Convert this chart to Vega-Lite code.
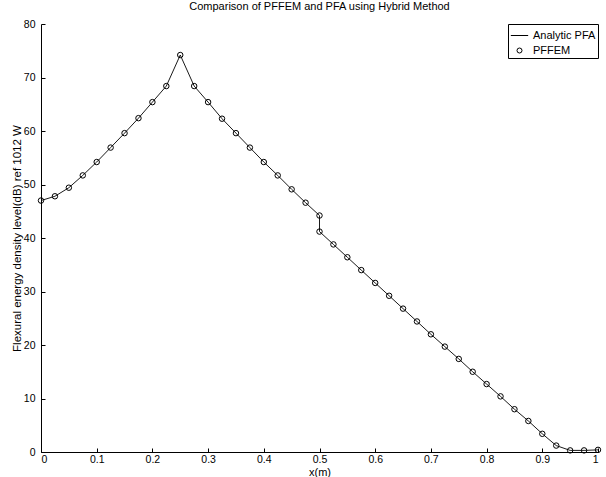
{
  "$schema": "https://vega.github.io/schema/vega-lite/v6.json",
  "width": 557,
  "height": 428,
  "autosize": {"type": "none"},
  "padding": {"left": 41, "top": 24, "right": 8, "bottom": 25},
  "background": "white",
  "config": {
    "view": {"stroke": null},
    "font": "Liberation Sans",
    "axis": {
      "grid": false,
      "domainColor": "black",
      "domainWidth": 1,
      "tickColor": "black",
      "tickSize": -4,
      "labelColor": "black",
      "labelFontSize": 10.5,
      "titleColor": "black",
      "titleFontSize": 11,
      "titleFontWeight": "normal"
    }
  },
  "title": {
    "text": "Comparison of PFFEM and PFA using Hybrid Method",
    "fontSize": 11,
    "fontWeight": "normal",
    "color": "black",
    "offset": 7
  },
  "data": {
    "values": [
      {"x": 0.000, "y": 47.0},
      {"x": 0.025, "y": 47.8},
      {"x": 0.050, "y": 49.4},
      {"x": 0.075, "y": 51.7},
      {"x": 0.100, "y": 54.2},
      {"x": 0.125, "y": 56.9},
      {"x": 0.150, "y": 59.6},
      {"x": 0.175, "y": 62.4},
      {"x": 0.200, "y": 65.4},
      {"x": 0.225, "y": 68.4},
      {"x": 0.250, "y": 74.2},
      {"x": 0.275, "y": 68.4},
      {"x": 0.300, "y": 65.4},
      {"x": 0.325, "y": 62.3},
      {"x": 0.350, "y": 59.6},
      {"x": 0.375, "y": 56.9},
      {"x": 0.400, "y": 54.2},
      {"x": 0.425, "y": 51.7},
      {"x": 0.450, "y": 49.1},
      {"x": 0.475, "y": 46.6},
      {"x": 0.500, "y": 44.2},
      {"x": 0.500, "y": 41.2},
      {"x": 0.525, "y": 38.8},
      {"x": 0.550, "y": 36.4},
      {"x": 0.575, "y": 34.0},
      {"x": 0.600, "y": 31.6},
      {"x": 0.625, "y": 29.2},
      {"x": 0.650, "y": 26.8},
      {"x": 0.675, "y": 24.4},
      {"x": 0.700, "y": 22.0},
      {"x": 0.725, "y": 19.7},
      {"x": 0.750, "y": 17.4},
      {"x": 0.775, "y": 15.0},
      {"x": 0.800, "y": 12.7},
      {"x": 0.825, "y": 10.4},
      {"x": 0.850, "y": 8.0},
      {"x": 0.875, "y": 5.8},
      {"x": 0.900, "y": 3.4},
      {"x": 0.925, "y": 1.2},
      {"x": 0.950, "y": 0.3},
      {"x": 0.975, "y": 0.3},
      {"x": 1.000, "y": 0.4}
    ]
  },
  "encoding": {
    "x": {
      "field": "x",
      "type": "quantitative",
      "scale": {"domain": [0, 1], "nice": false, "zero": false},
      "axis": {
        "title": "x(m)",
        "values": [0, 0.1, 0.2, 0.3, 0.4, 0.5, 0.6, 0.7, 0.8, 0.9, 1],
        "format": "~g",
        "labelPadding": 6,
        "titlePadding": 2
      }
    },
    "y": {
      "field": "y",
      "type": "quantitative",
      "scale": {"domain": [0, 80], "nice": false},
      "axis": {
        "title": "Flexural energy density level(dB) ref 1012 W",
        "titleFontSize": 11.5,
        "values": [0, 10, 20, 30, 40, 50, 60, 70, 80],
        "labelPadding": 10,
        "titlePadding": 1
      }
    }
  },
  "layer": [
    {
      "mark": {"type": "line", "color": "black", "strokeWidth": 0.9},
      "encoding": {"order": {"value": null}}
    },
    {
      "mark": {"type": "point", "filled": false, "color": "black", "strokeWidth": 1, "size": 30, "opacity": 1},
      "encoding": {
        "shape": {
          "datum": "PFFEM",
          "scale": {"domain": ["Analytic PFA", "PFFEM"], "range": ["stroke", "circle"]},
          "legend": {
            "title": null,
            "orient": "top-right",
            "offset": 0,
            "strokeColor": "black",
            "fillColor": "white",
            "padding": 2,
            "rowPadding": -4,
            "labelFontSize": 11,
            "labelColor": "black",
            "symbolStrokeColor": "black",
            "symbolStrokeWidth": 1,
            "symbolSize": {"expr": "datum.value === 'PFFEM' ? 25 : 300"}
          }
        }
      }
    }
  ]
}
